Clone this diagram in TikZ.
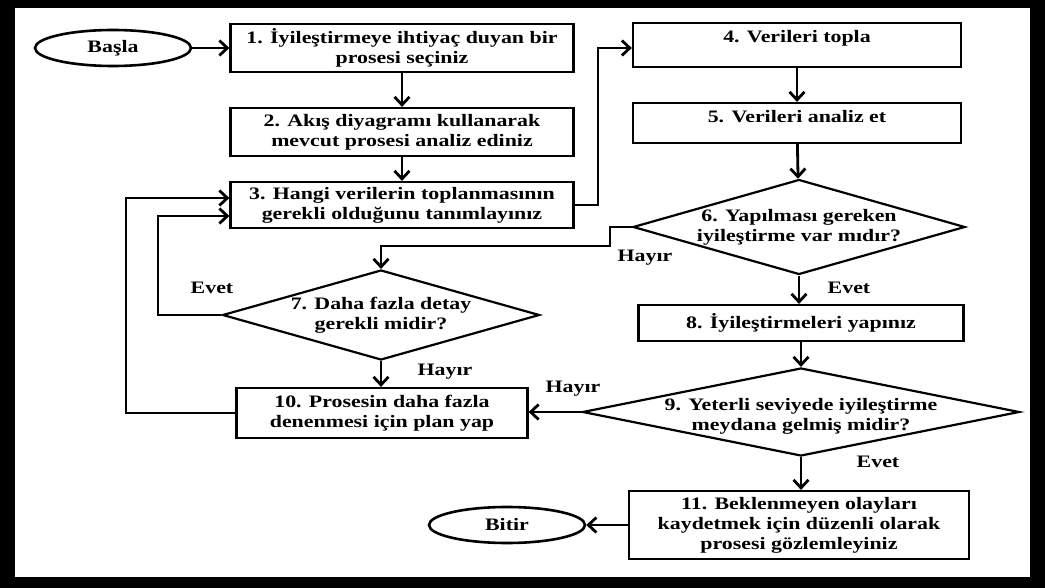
\documentclass[tikz,border=0pt]{standalone}
\usepackage{fontspec}
\setmainfont{Liberation Serif}[FakeStretch=1.25]
\usetikzlibrary{arrows.meta,shapes.geometric}
\begin{document}
\begin{tikzpicture}[x=1pt,y=-1pt,
  every node/.style={font=\fontsize{17.5}{20}\selectfont\bfseries, align=center, inner sep=0pt},
  box/.style={draw, line width=2.2pt, rectangle},
  dia/.style={draw, line width=2.2pt, diamond},
  term/.style={draw, line width=2.6pt, ellipse, minimum width=156pt, minimum height=36pt},
  conn/.style={line width=2.8pt, line join=miter, -{Straight Barb[length=8pt,width=15pt]}}]
\useasboundingbox (0,0) rectangle (1045,588);
% frame
\fill[black] (0,0) rectangle (1045,588);
\fill[white] (15,8) rectangle (1030,577);

% left column
\node[term] (start) at (113,48) {Başla};
\node[box, minimum width=343pt, minimum height=48pt] (b1) at (402,48)
  {1. İyileştirmeye ihtiyaç duyan bir\\prosesi seçiniz};
\node[box, minimum width=343pt, minimum height=48pt] (b2) at (402,132)
  {2. Akış diyagramı kullanarak\\mevcut prosesi analiz ediniz};
\node[box, minimum width=343pt, minimum height=46pt] (b3) at (402,205)
  {3. Hangi verilerin toplanmasının\\gerekli olduğunu tanımlayınız};
\node[dia, minimum width=317pt, minimum height=90pt] (d7) at (381,315) {};
\node (t7) at (d7.center) {7. Daha fazla detay\\gerekli midir?};
\node[box, minimum width=291pt, minimum height=50pt] (b10) at (382,413)
  {10. Prosesin daha fazla\\denenmesi için plan yap};

% right column
\node[box, minimum width=328pt, minimum height=44pt] (b4) at (797,45) {};
\node (t4) at ([yshift=7pt]b4.center) {4. Verileri topla};
\node[box, minimum width=328pt, minimum height=40pt] (b5) at (797,123) {};
\node (t5) at ([yshift=6pt]b5.center) {5. Verileri analiz et};
\node[dia, minimum width=332pt, minimum height=95pt] (d6) at (799,227) {};
\node (t6) at (d6.center) {6. Yapılması gereken\\iyileştirme var mıdır?};
\node[box, minimum width=325pt, minimum height=36pt] (b8) at (801,323)
  {8. İyileştirmeleri yapınız};
\node[dia, minimum width=437pt, minimum height=88pt] (d9) at (801,412) {};
\node (t9) at ([yshift=-4pt]d9.center) {9. Yeterli seviyede iyileştirme\\meydana gelmiş midir?};
\node[box, minimum width=340pt, minimum height=68pt] (b11) at (799,525)
  {11. Beklenmeyen olayları\\kaydetmek için düzenli olarak\\prosesi gözlemleyiniz};
\node[term] (end) at (507,525) {Bitir};

% bend points of the routed connectors
\coordinate (j34) at (598,0);
\coordinate (j67) at (610,246);
\coordinate (j73) at (158,0);
\coordinate (j103) at (126,0);

% connectors
\draw[conn] (start) -- (b1);
\draw[conn] (b1) -- (b2);
\draw[conn] (b2) -- (b3);
\draw[conn] (b3.east) -- (b3.east -| j34) |- ([yshift=-3pt]b4.west);
\draw[conn] (b4) -- (b5);
\draw[conn] (b5) -- (d6);
\draw[conn] (d6.west) -| (j67) -| (d7.north);
\draw[conn] (d6.south) -- (d6.south |- b8.north);
\draw[conn] (b8.south) -- (b8.south |- d9.north);
\draw[conn] (d7.south) -- (d7.south |- b10.north);
\draw[conn] (d7.west) -- (d7.west -| j73) |- ([yshift=-11pt]b3.west);
\draw[conn] (b10.west) -- (b10.west -| j103) |- ([yshift=7pt]b3.west);
\draw[conn] (d9.west) -- (d9.west -| b10.east);
\draw[conn] (d9.south) -- (d9.south |- b11.north);
\draw[conn] (b11.west) -- (end.east);

% branch labels
\node (l6n) at (645,258) {Hayır};
\node (l6y) at (849,288) {Evet};
\node (l7y) at (212,288) {Evet};
\node (l7n) at (445,372) {Hayır};
\node (l9n) at (573,389) {Hayır};
\node (l9y) at (878,462) {Evet};
\end{tikzpicture}
\end{document}
